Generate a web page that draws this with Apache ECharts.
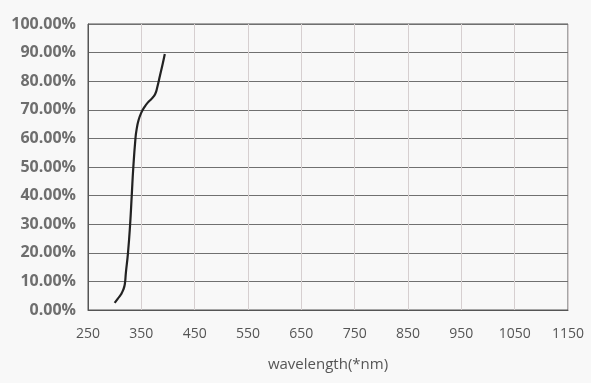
<!DOCTYPE html>
<html>
<head>
<meta charset="utf-8">
<script src="https://cdn.jsdelivr.net/npm/echarts@6/dist/echarts.min.js"></script>
<style>
    html, body { margin: 0; padding: 0; background: #f8f8f8; }
    #chart { width: 591px; height: 383px; }
</style>
</head>
<body>
<div id="chart"></div>
<script>
// wavelength (nm) and transmittance (%)
var wavelength = [300, 306, 312, 316, 319, 321, 325, 329, 332, 335, 339, 341, 345, 350, 356, 362, 370, 376, 380, 385, 390, 394];
var transmit = [2.5, 4, 5.5, 7, 9, 13, 20, 30, 40, 50, 60, 63, 66.5, 69, 71, 72.5, 74, 75.5, 78, 82, 86, 89.5];

var myChart = echarts.init(document.getElementById('chart'));

var seriesData = wavelength.map(function (w, i) {
    return [w, transmit[i]];
});

var option = {
    backgroundColor: '#f8f8f8',
    animation: false,
    grid: {
        left: 88,
        right: 23,
        top: 24,
        bottom: 73,
        show: true,
        borderColor: '#555',
        borderWidth: 1,
        backgroundColor: 'transparent'
    },
    xAxis: {
        type: 'value',
        min: 250,
        max: 1150,
        interval: 100,
        name: 'wavelength(*nm)',
        nameLocation: 'middle',
        nameGap: 47,
        nameTextStyle: {
            color: '#555',
            fontSize: 15,
            fontFamily: 'Open Sans'
        },
        axisLine: { show: true, lineStyle: { color: '#555' } },
        axisTick: { show: false },
        axisLabel: {
            color: '#555',
            fontSize: 14,
            fontFamily: 'Open Sans',
            margin: 17,
            formatter: function (v) {
                return String(v);
            }
        },
        splitLine: {
            show: true,
            lineStyle: { color: '#d6cfd0', width: 1 }
        }
    },
    yAxis: {
        type: 'value',
        min: 0,
        max: 100,
        interval: 10,
        axisLine: { show: true, lineStyle: { color: '#555' } },
        axisTick: { show: false },
        axisLabel: {
            color: '#6e6e6e',
            fontSize: 16,
            fontWeight: 'bold',
            fontFamily: 'Open Sans',
            margin: 12,
            formatter: function (v) {
                return v.toFixed(2) + '%';
            }
        },
        splitLine: {
            show: true,
            lineStyle: { color: '#707070', width: 1 }
        }
    },
    series: [{
        type: 'line',
        data: seriesData,
        smooth: true,
        showSymbol: false,
        lineStyle: { color: '#222', width: 2.2 }
    }]
};

myChart.setOption(option);
</script>
</body>
</html>
